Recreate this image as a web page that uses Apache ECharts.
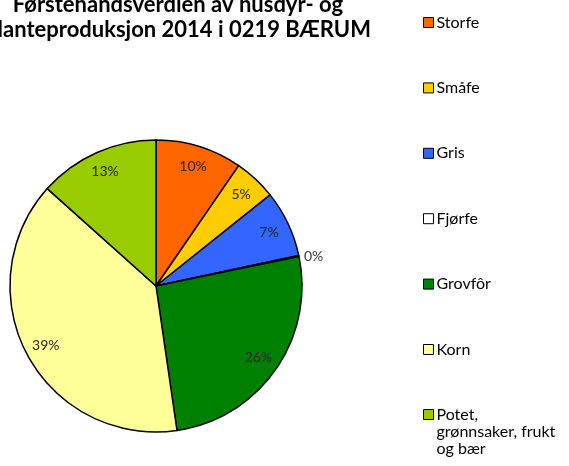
<!DOCTYPE html>
<html>
<head>
<meta charset="utf-8">
<script src="https://cdn.jsdelivr.net/npm/echarts@6/dist/echarts.min.js"></script>
<style>
  html, body { margin: 0; padding: 0; background: #fff; }
  #chart-div { width: 569px; height: 466px; }
</style>
</head>
<body>
<div id="chart-div"></div>
<script>
// kategoriat, osuudet (%) ja värit
const categories = ['Storfe', 'Småfe', 'Gris', 'Fjørfe', 'Grovfôr', 'Korn', 'Potet, grønnsaker, frukt og bær']
const values = [9.6, 4.7, 7.4, 0.1, 26.0, 39.0, 13.4]
const colors = ['#FF6600', '#FFCC00', '#3366FF', '#FFFFFF', '#008000', '#FFFF99', '#99CC00']
const titleText = 'Førstehåndsverdien av husdyr- og\nplanteproduksjon 2014 i 0219 BÆRUM'

const font = 'Lato'
const pct = p => Math.round(p.percent) + '%'

// varsinainen piirakka, vain 0% -tunniste ulkopuolella
const pieData = categories.map((name, i) => ({
    name: name,
    value: values[i],
    itemStyle: { color: colors[i] },
    label: name === 'Fjørfe' ? { show: true, position: 'outside' } : { show: false },
    labelLine: { show: false, length: 0, length2: 0 }
}))

// läpinäkyvä rengas prosenttitekstejä varten
const labelData = categories.map((name, i) => ({
    name: name,
    value: values[i],
    label: { show: name !== 'Fjørfe' }
}))

let myChart = echarts.init(document.getElementById('chart-div'))

const legendText = { fontFamily: font, fontSize: 16, lineHeight: 17, color: '#000', padding: [0, 0, 0, -2] }

const option = {
    animation: false,
    title: {
        text: titleText,
        left: 178,
        top: -8,
        padding: 0,
        textAlign: 'center',
        textStyle: { fontFamily: font, fontSize: 22, fontWeight: 'bold', color: '#000', lineHeight: 25 }
    },
    legend: [{
        orient: 'vertical',
        left: 423,
        top: 14,
        padding: 0,
        itemGap: 48.4,
        itemWidth: 10,
        itemHeight: 10,
        icon: 'rect',
        itemStyle: { borderColor: '#000', borderWidth: 1 },
        textStyle: legendText,
        data: categories.slice(0, 6)
    }, {
        orient: 'vertical',
        left: 423,
        top: 372,
        padding: 0,
        itemWidth: 10,
        itemHeight: 10,
        icon: 'rect',
        itemStyle: { borderColor: '#000', borderWidth: 1 },
        // kaksi tyhjää riviä, jotta ruutu osuu ensimmäisen rivin kohdalle
        formatter: () => '\n\nPotet,\ngrønnsaker, frukt\nog bær',
        textStyle: legendText,
        data: categories.slice(6)
    }],
    series: [{
        name: 'verdi',
        type: 'pie',
        center: [156, 286],
        radius: 146,
        startAngle: 90,
        clockwise: true,
        avoidLabelOverlap: false,
        silent: true,
        itemStyle: { borderColor: '#000', borderWidth: 1.5 },
        label: { formatter: pct, fontFamily: font, fontSize: 14, color: '#333' },
        data: pieData
    }, {
        name: 'tekstit',
        type: 'pie',
        center: [156, 286],
        radius: [112, 132],
        startAngle: 90,
        clockwise: true,
        silent: true,
        legendHoverLink: false,
        itemStyle: { color: 'rgba(0,0,0,0)', borderWidth: 0 },
        label: { position: 'inside', formatter: pct, fontFamily: font, fontSize: 14, color: '#262626' },
        labelLine: { show: false },
        data: labelData
    }]
}

myChart.setOption(option)
</script>
</body>
</html>
